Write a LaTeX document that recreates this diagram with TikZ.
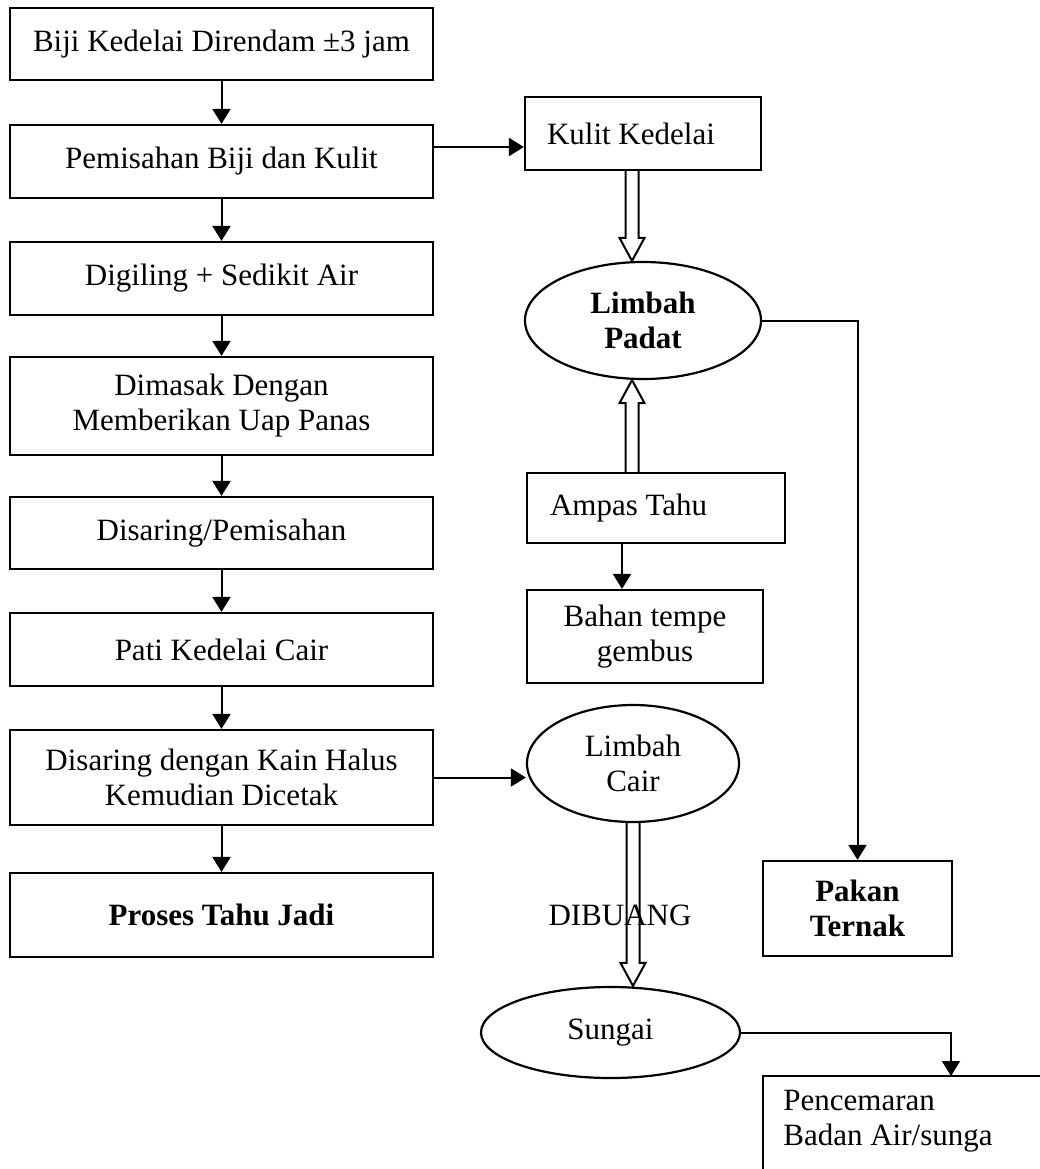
\documentclass[tikz,border=0pt]{standalone}
\usepackage{fontspec}
\setmainfont{Liberation Serif}
\usepackage{tikz}
\usetikzlibrary{positioning,arrows.meta,calc}
\usetikzlibrary{shapes.geometric}
\tikzstyle{kotak} = [draw, rectangle, line width=1.1pt, inner sep=0pt, align=center]
\tikzstyle{elips} = [draw, ellipse, line width=1.1pt, inner sep=0pt, align=center]
\tikzstyle{panah} = [-{Triangle[length=7.5pt,width=9pt]}, line width=1pt]
\newcommand{\panahkosong}[2]{%
  \draw[line width=1pt, line join=miter]
    ($(#1)+(-6.5,0)$) -- ($(#2)!11.5pt!(#1)+(-6.5,0)$)
    -- ($(#2)!11.5pt!(#1)+(-12.5,0)$) -- (#2)
    -- ($(#2)!11.5pt!(#1)+(12.5,0)$) -- ($(#2)!11.5pt!(#1)+(6.5,0)$)
    -- ($(#1)+(6.5,0)$);}

\begin{document}
\begin{tikzpicture}[x=0.5pt, y=-0.5pt, font=\fontsize{15.5}{17.5}\selectfont]
\useasboundingbox (0,0) rectangle (1040,1169);

\node[kotak, minimum width=211.5pt, minimum height=36pt] (biji) at (221.5,44) {Biji Kedelai Direndam ±3 jam};
\node[kotak, minimum width=211.5pt, minimum height=36.5pt] (pisah) at (221.5,161.5) {Pemisahan Biji dan Kulit};
\node[kotak, minimum width=211.5pt, minimum height=36.5pt] (giling) at (221.5,278.5) {Digiling + Sedikit Air};
\node[kotak, minimum width=211.5pt, minimum height=49pt] (masak) at (221.5,406) {Dimasak Dengan\\Memberikan Uap Panas};
\node[kotak, minimum width=211.5pt, minimum height=36pt] (saring) at (221.5,533) {Disaring/Pemisahan};
\node[kotak, minimum width=211.5pt, minimum height=36.5pt] (pati) at (221.5,649.5) {Pati Kedelai Cair};
\node[kotak, minimum width=211.5pt, minimum height=47.5pt] (cetak) at (221.5,777.5) {Disaring dengan Kain Halus\\Kemudian Dicetak};
\node[kotak, minimum width=211.5pt, minimum height=42pt, font=\fontsize{15.5}{17.5}\selectfont\bfseries] (jadi) at (221.5,915) {Proses Tahu Jadi};

\node[kotak, minimum height=36.5pt, inner xsep=11pt] (kulit) at (643,133.5) {\makebox[96pt][l]{Kulit Kedelai}};
\node[elips, minimum width=118pt, minimum height=58.5pt, font=\fontsize{15.5}{17.5}\selectfont\bfseries] (padat) at (643,320.5) {Limbah\\Padat};
\node[kotak, minimum height=35pt, inner xsep=11.5pt] (ampas) at (656,508) {\makebox[106pt][l]{Ampas Tahu}};
\node[kotak, minimum width=118pt, minimum height=46.5pt] (tempe) at (645,636.5) {Bahan tempe\\gembus};
\node[elips, minimum width=106pt, minimum height=58.5pt] (cair) at (633,763.5) {Limbah\\Cair};
\node (buang) at (620,915) {DIBUANG};
\node[elips, minimum width=129.5pt, minimum height=45.5pt] (sungai) at (610.5,1032.5) {Sungai};
\node[kotak, minimum width=94.5pt, minimum height=47.5pt, font=\fontsize{15.5}{17.5}\selectfont\bfseries] (pakan) at (857.5,908.5) {Pakan\\Ternak};
\node[anchor=north west, inner xsep=10pt, inner ysep=7pt, align=left] (cemar) at (763,1076) {Pencemaran\\Badan Air/sunga};
\draw[line width=1.1pt] ($(cemar.north west)+(320,0)$) -- (cemar.north west) -- ++(0,140);

\draw[panah] (biji) -- (pisah);
\draw[panah] (pisah) -- (giling);
\draw[panah] (giling) -- (masak);
\draw[panah] (masak) -- (saring);
\draw[panah] (saring) -- (pati);
\draw[panah] (pati) -- (cetak);
\draw[panah] (cetak) -- (jadi);

\draw[panah] (pisah.east |- 0,147) -- (kulit.west |- 0,147);
\draw[panah] (cetak.east) -- (cetak.east -| cair.west);
\draw[panah] (622,0 |- ampas.south) -- (622,0 |- tempe.north);
\draw[panah] (padat.east) -| (pakan.north);
\coordinate (cemarmasuk) at (951,1076);
\draw[panah] (sungai.east) -| (cemarmasuk);

\coordinate (k1) at (632,0 |- kulit.south);
\coordinate (k2) at (632,0 |- padat.north);
\coordinate (a1) at (632,0 |- ampas.north);
\coordinate (a2) at (632,0 |- padat.south);
\coordinate (c1) at (cair.south);
\coordinate (c2) at (633,0 |- sungai.north);
\panahkosong{k1}{k2}
\panahkosong{a1}{a2}
\panahkosong{c1}{c2}

\end{tikzpicture}
\end{document}
